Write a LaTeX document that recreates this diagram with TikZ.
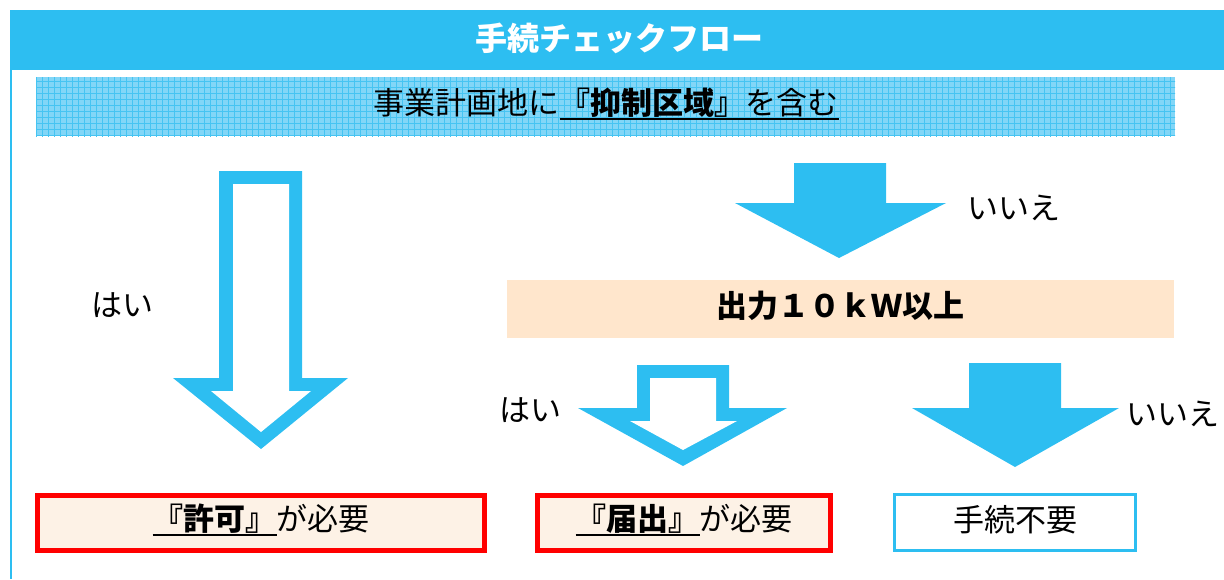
\documentclass[tikz,border=0pt]{standalone}
\usepackage{fontspec}
\setmainfont{Noto Sans CJK JP}
\usetikzlibrary{patterns}
\definecolor{hblue}{RGB}{45,190,241}
\definecolor{dotbase}{RGB}{130,214,247}
\definecolor{dotline}{RGB}{70,196,242}
\definecolor{peach}{RGB}{255,230,204}
\definecolor{lpeach}{RGB}{253,242,230}
\definecolor{redb}{RGB}{255,0,0}
\newcommand\myul[1]{\setbox0\hbox{#1}\rlap{\rule[-3pt]{\wd0}{1pt}}\box0}
\tikzset{
  x=0.5pt,y=-0.5pt,
  txt/.style={font=\fontsize{15.5pt}{18pt}\selectfont, inner sep=0pt, text=black},
  redbox/.style={draw=redb, line width=2.5pt, fill=lpeach},
}
\begin{document}
\begin{tikzpicture}
\useasboundingbox (0,0) rectangle (1224,579);
% header
\fill[hblue] (10,10) rectangle (1224,70);
\node[txt, text=white, font=\fontsize{16pt}{18pt}\selectfont\bfseries] (title) at (619,38) {手続チェックフロー};
\draw[hblue, line width=1pt] (11,70) -- (11,579);
% dotted question box
\fill[dotbase] (36,77) rectangle (1175,136);
\fill[pattern=grid, pattern color=dotline] (36,77) rectangle (1175,136);
\node[txt] (q1) at (606,104) {事業計画地に\myul{\textbf{『抑制区域』}を含む}};
% hollow arrow 1 (yes)
\fill[hblue] (219,171) -- (302,171) -- (302,378) -- (348,378) -- (261,449) -- (173,378) -- (219,378) -- cycle;
\fill[white] (233,184) -- (289,184) -- (289,391) -- (311,391) -- (261,432) -- (211,391) -- (233,391) -- cycle;
\node[txt] (yes1) at (122,305) {はい};
% solid arrow 1 (no)
\fill[hblue] (794,163) -- (886,163) -- (886,203) -- (946,203) -- (839,258) -- (735,203) -- (794,203) -- cycle;
\node[txt] (no1) at (1014,208) {いいえ};
% second question
\node[fill=peach, minimum width=333.5pt, minimum height=29pt, inner sep=0pt] (q2box) at (840.5,309) {};
\node[txt, font=\fontsize{15.5pt}{18pt}\selectfont\bfseries] (q2) at (840,306) {出力１０ｋＷ以上};
% hollow arrow 2 (yes)
\fill[hblue] (637,365) -- (729,365) -- (729,408) -- (787,408) -- (683,466) -- (578,408) -- (637,408) -- cycle;
\fill[white] (650,378) -- (716,378) -- (716,421) -- (737,421) -- (683,450) -- (630,421) -- (650,421) -- cycle;
\node[txt] (yes2) at (530,410) {はい};
% solid arrow 2 (no)
\fill[hblue] (969,363) -- (1061,363) -- (1061,408) -- (1119,408) -- (1015,467) -- (912,408) -- (969,408) -- cycle;
\node[txt] (no2) at (1173,414) {いいえ};
% result boxes
\draw[redbox] (37.5,495.5) rectangle (484.5,550.5);
\node[txt] (r1) at (261,520) {\myul{\textbf{『許可』}}が必要};
\draw[redbox] (537.5,495.5) rectangle (830.5,550.5);
\node[txt] (r2) at (684,520) {\myul{\textbf{『届出』}}が必要};
\draw[hblue, line width=1.5pt, fill=white] (894.5,494.5) rectangle (1135.5,550.5);
\node[txt] (r3) at (1015,520) {手続不要};
\end{tikzpicture}
\end{document}
